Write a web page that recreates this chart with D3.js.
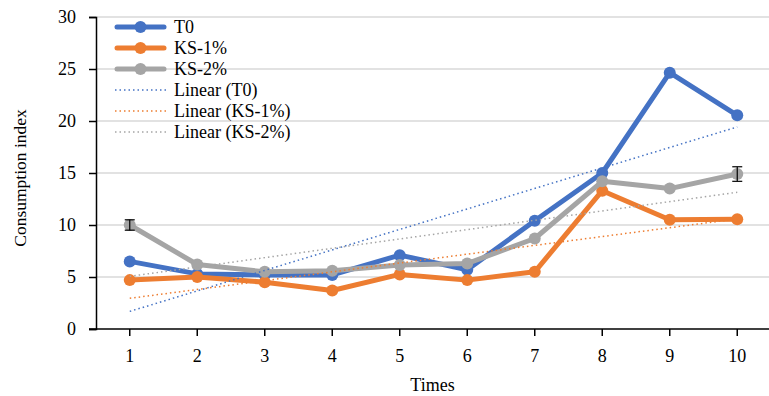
<!DOCTYPE html>
<html>
<head>
<meta charset="utf-8">
<script src="https://cdn.jsdelivr.net/npm/d3@7"></script>
<style>
  body { margin: 0; background: #fff; }
  svg text { font-family: "Liberation Serif", "Times New Roman", serif; }
</style>
</head>
<body>
<div id="chart"></div>
<script>
const times = [1, 2, 3, 4, 5, 6, 7, 8, 9, 10];
const t0 = [6.5, 5.3, 5.2, 5.2, 7.1, 5.7, 10.4, 15.0, 24.65, 20.55];
const ks1 = [4.7, 5.0, 4.5, 3.7, 5.25, 4.7, 5.5, 13.3, 10.5, 10.55];
const ks2 = [10.0, 6.2, 5.5, 5.6, 6.15, 6.3, 8.7, 14.2, 13.5, 14.9];
const ks2_err = [0.5, 0, 0, 0, 0, 0, 0, 0, 0, 0.7];
const y_ticks = [0, 5, 10, 15, 20, 25, 30];

const series = [
  { name: "T0", values: t0, color: "#4472C4" },
  { name: "KS-1%", values: ks1, color: "#ED7D31" },
  { name: "KS-2%", values: ks2, color: "#A5A5A5", err: ks2_err },
];

const font_size = 18;
const width = 769, height = 396;
const margins = [17, 0, 67, 96]; // top, right, bottom, left
const [mt, mr, mb, ml] = margins;

const svg = d3.select("#chart").append("svg")
  .attr("width", width).attr("height", height);

const x = d3.scaleBand().domain(times).range([ml, width - mr + 2]);
const cx = (d) => x(d) + x.bandwidth() / 2;
const y = d3.scaleLinear().domain([0, 30]).range([height - mb, mt]);

// gridlines
svg.append("g").selectAll("line")
  .data(y_ticks.filter((d) => d > 0))
  .join("line")
  .attr("x1", ml).attr("x2", width)
  .attr("y1", (d) => y(d)).attr("y2", (d) => y(d))
  .attr("stroke", "#d9d9d9").attr("stroke-width", 1.5);

// y axis
const yAxis = svg.append("g")
  .attr("transform", `translate(${ml},0)`)
  .call(d3.axisLeft(y).tickValues(y_ticks).tickSize(7).tickPadding(13));
yAxis.attr("font-size", font_size);
yAxis.select(".domain").attr("stroke", "#000").attr("stroke-width", 1.5);
yAxis.selectAll(".tick line").attr("stroke", "#000").attr("stroke-width", 1.5);
yAxis.selectAll("text").attr("fill", "#000");

// x axis
const xAxis = svg.append("g")
  .attr("transform", `translate(0,${height - mb})`)
  .call(d3.axisBottom(x).tickSize(7).tickSizeOuter(0).tickPadding(13));
xAxis.attr("font-size", font_size);
xAxis.select(".domain").attr("stroke", "#000").attr("stroke-width", 1.5)
  .attr("d", `M${ml - 7},0H${width}`);
xAxis.selectAll(".tick line").attr("stroke", "#000").attr("stroke-width", 1.5);
xAxis.selectAll("text").attr("fill", "#000");

// axis labels
svg.append("text")
  .attr("text-anchor", "middle")
  .attr("transform", `translate(26,178) rotate(-90)`)
  .attr("font-size", 17.5)
  .text("Consumption index");
svg.append("text")
  .attr("text-anchor", "middle")
  .attr("x", (ml + width) / 2).attr("y", 391)
  .attr("font-size", font_size)
  .text("Times");

const line = d3.line().x((d, i) => cx(times[i])).y((d) => y(d));

// series
for (const s of series) {
  const g = svg.append("g");
  g.append("path").datum(s.values)
    .attr("fill", "none").attr("stroke", s.color)
    .attr("stroke-width", 5).attr("stroke-linejoin", "round")
    .attr("d", line);
  g.selectAll("circle").data(s.values).join("circle")
    .attr("cx", (d, i) => cx(times[i])).attr("cy", (d) => y(d))
    .attr("r", 6).attr("fill", s.color);
  if (s.err) {
    s.values.forEach((v, i) => {
      const e = s.err[i];
      if (!e) return;
      const px = cx(times[i]);
      const eg = g.append("g").attr("stroke", "#000").attr("stroke-width", 1.2);
      eg.append("line").attr("x1", px).attr("x2", px).attr("y1", y(v - e)).attr("y2", y(v + e));
      eg.append("line").attr("x1", px - 5).attr("x2", px + 5).attr("y1", y(v - e)).attr("y2", y(v - e));
      eg.append("line").attr("x1", px - 5).attr("x2", px + 5).attr("y1", y(v + e)).attr("y2", y(v + e));
    });
  }
}

// linear trend lines
function linearFit(vals) {
  const mx = d3.mean(times), my = d3.mean(vals);
  const slope = d3.sum(times, (t, i) => (t - mx) * (vals[i] - my)) /
    d3.sum(times, (t) => (t - mx) ** 2);
  return (t) => my + slope * (t - mx);
}
for (const s of series) {
  const f = linearFit(s.values);
  const t1 = times[0], t2 = times[times.length - 1];
  svg.append("line")
    .attr("x1", cx(t1)).attr("y1", y(f(t1)))
    .attr("x2", cx(t2)).attr("y2", y(f(t2)))
    .attr("stroke", s.color).attr("stroke-width", 1.5)
    .attr("stroke-dasharray", "1.5,3");
}

// legend
const legend = svg.append("g").attr("transform", "translate(115,27)");
const items = series.map((s) => ({ label: s.name, color: s.color, trend: false }))
  .concat(series.map((s) => ({ label: `Linear (${s.name})`, color: s.color, trend: true })));
items.forEach((it, i) => {
  const g = legend.append("g").attr("transform", `translate(0,${i * 21})`);
  if (it.trend) {
    g.append("line").attr("x1", 0).attr("x2", 51)
      .attr("stroke", it.color).attr("stroke-width", 1.5)
      .attr("stroke-dasharray", "1.5,3");
  } else {
    g.append("line").attr("x1", 2).attr("x2", 49)
      .attr("stroke", it.color).attr("stroke-width", 5).attr("stroke-linecap", "round");
    g.append("circle").attr("cx", 25.5).attr("r", 6).attr("fill", it.color);
  }
  g.append("text").attr("x", 59).attr("dy", "0.35em")
    .attr("font-size", font_size).text(it.label);
});
</script>
</body>
</html>
